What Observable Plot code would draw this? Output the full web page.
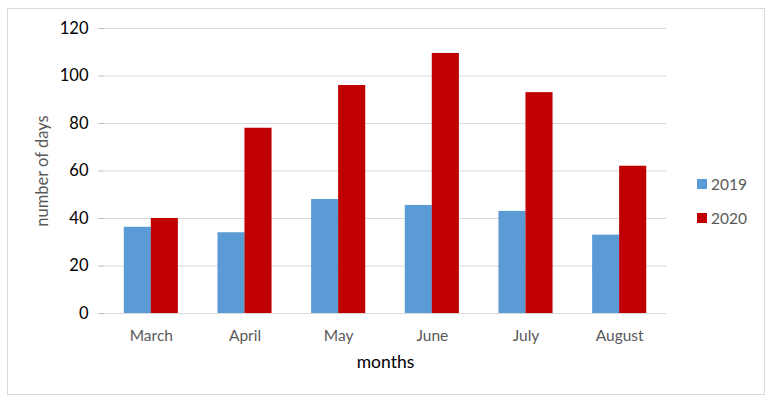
<!DOCTYPE html>
<html>
<head>
<meta charset="utf-8">
<script src="https://cdn.jsdelivr.net/npm/d3@7"></script>
<script src="https://cdn.jsdelivr.net/npm/@observablehq/plot@0.6"></script>
<style>
  html, body { margin: 0; padding: 0; background: #fff; }
  #wrap { position: relative; width: 773px; height: 404px; font-family: Lato, "Open Sans", sans-serif; }
  #border { position: absolute; left: 7px; top: 8px; width: 758px; height: 387px; border: 1px solid #d9d9d9; box-sizing: border-box; }
  #chart { position: absolute; left: 0; top: 0; }
  #legend { position: absolute; left: 697px; top: 174px; font-size: 15.5px; color: #595959; }
  .item { display: flex; align-items: center; height: 20px; margin-bottom: 14px; }
  .sw { width: 10px; height: 10px; margin-right: 4px; }
</style>
</head>
<body>
<div id="wrap">
  <div id="border"></div>
  <div id="chart"></div>
  <div id="legend"></div>
</div>
<script>
const months = ["March", "April", "May", "June", "July", "August"];
const years = ["2019", "2020"];
const values2019 = [36.3, 34, 48, 45.5, 43, 33];
const values2020 = [40, 78, 96, 109.5, 93, 62];
const yTicks = [0, 20, 40, 60, 80, 100, 120];
const colors = ["#5b9bd5", "#c00000"];

const d2019 = months.map((m, i) => ({month: m, value: values2019[i]}));
const d2020 = months.map((m, i) => ({month: m, value: values2020[i]}));

const plot = Plot.plot({
  width: 773,
  height: 404,
  marginLeft: 104,
  marginRight: 107,
  marginTop: 28,
  marginBottom: 91,
  style: {fontFamily: "Lato, 'Open Sans', sans-serif", background: "transparent"},
  x: {domain: months, paddingInner: 0.4225, paddingOuter: 0.2113, round: false},
  y: {domain: [0, 120]},
  marks: [
    Plot.gridY(yTicks, {stroke: "#d9d9d9", strokeOpacity: 1, strokeWidth: 1}),
    Plot.barY(d2019, {x: "month", y: "value", fill: colors[0], insetRight: 27}),
    Plot.barY(d2020, {x: "month", y: "value", fill: colors[1], insetLeft: 27}),
    Plot.ruleY([0], {stroke: "#d9d9d9", strokeWidth: 1}),
    Plot.ruleX([0], {frameAnchor: "left", stroke: "#bfbfbf"}),
    Plot.axisY({ticks: yTicks, tickSize: 6, tickPadding: 10, stroke: "#bfbfbf", fontSize: 16.5, color: "#000",
      label: "number of days", labelAnchor: "center", labelArrow: "none", labelOffset: 68}),
    Plot.axisX({tickSize: 0, tickPadding: 16, fontSize: 15.5, color: "#595959",
      label: "months", labelAnchor: "center", labelArrow: "none", labelOffset: 54})
  ]
});
document.getElementById("chart").appendChild(plot);

// style axis labels
plot.querySelectorAll("g[aria-label='y-axis label'] text").forEach(t => { t.setAttribute("fill", "#595959"); t.style.fontSize = "16.5px"; });
plot.querySelectorAll("g[aria-label='x-axis label'] text").forEach(t => { t.setAttribute("fill", "#000"); t.style.fontSize = "17.5px"; });
plot.querySelectorAll("g[aria-label='y-axis tick label'] text").forEach(t => t.setAttribute("fill", "#000"));

const legend = document.getElementById("legend");
years.forEach((y, i) => {
  const it = document.createElement("div");
  it.className = "item";
  it.innerHTML = `<div class="sw" style="background:${colors[i]}"></div><span>${y}</span>`;
  legend.appendChild(it);
});
</script>
</body>
</html>
